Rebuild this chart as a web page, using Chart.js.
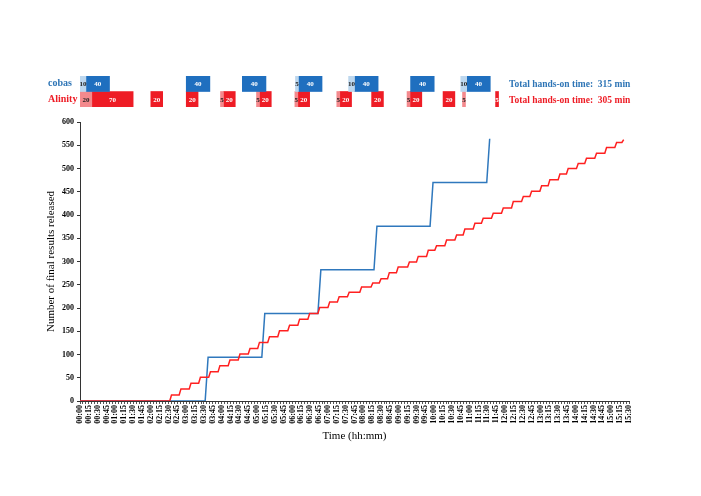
<!DOCTYPE html>
<html>
<head>
<meta charset="utf-8">
<script src="https://cdn.jsdelivr.net/npm/chart.js@4.4.0/dist/chart.umd.min.js"></script>
<style>
  body { margin: 0; background: #fff; }
  #wrap { position: relative; width: 701px; height: 496px; }
  canvas { position: absolute; left: 0; top: 0; }
</style>
</head>
<body>
<div id="wrap">
  <canvas id="resultsChart" width="701" height="496"></canvas>
  <canvas id="handsOnChart" width="701" height="116"></canvas>
</div>
<script>
// minutes since 00:00
const cobasStepTimes = [212, 308, 403, 498, 593, 689];
const cobasStepValues = [94, 188, 282, 376, 470, 564];

const alinityStepTimes = [152, 168, 185, 201, 218, 234, 251, 268, 285, 301,
    318, 335, 352, 369, 386, 403, 420, 436, 453, 474,
    493, 507, 521, 536, 555, 570, 587, 601, 618, 635,
    649, 666, 680, 697, 714, 731, 748, 762, 779, 793,
    810, 824, 841, 855, 872, 889, 906, 918];
const alinityStepValues = [13, 26, 38, 51, 63, 76, 88, 101, 113, 126,
    138, 151, 163, 176, 188, 201, 213, 224, 234, 245,
    254, 263, 276, 288, 299, 311, 324, 334, 346, 357,
    370, 382, 393, 404, 415, 429, 440, 451, 463, 476,
    488, 500, 511, 522, 533, 545, 556, 562];

// hands-on blocks [start, end] in minutes
const analyzers = ["cobas", "Alinity"];
const handsOnTotals = [315, 305];
const cobasLight = [[0, 10], [365, 370], [455, 465], [645, 655]];
const cobasDark = [[10, 50], [180, 220], [275, 315], [370, 410], [465, 505], [560, 600], [655, 695]];
const alinityLight = [[0, 20], [238, 243], [299, 304], [364, 369], [435, 440], [554, 559], [648, 653]];
const alinityDark = [[20, 90], [120, 140], [180, 200], [243, 263], [304, 324], [369, 389], [440, 460],
    [494, 514], [559, 579], [615, 635], [704, 709]];

const serif = "'Liberation Serif', 'Times New Roman', serif";
const rowColors = ['#2e75b6', '#ee1c25'];

function stepPoints(times, values, rise) {
    const pts = [{ x: 0, y: 0 }];
    let prev = 0;
    times.forEach((t, i) => {
        pts.push({ x: t, y: prev });
        pts.push({ x: t + rise, y: values[i] });
        prev = values[i];
    });
    return pts;
}

function hhmm(v) {
    const h = Math.floor(v / 60), m = v % 60;
    return String(h).padStart(2, '0') + ':' + String(m).padStart(2, '0');
}

// results released chart
new Chart(document.getElementById('resultsChart'), {
    type: 'line',
    data: {
        datasets: [{
            label: 'Alinity',
            data: stepPoints(alinityStepTimes, alinityStepValues, 3),
            borderColor: '#ff2020',
            borderWidth: 1.5,
            pointRadius: 0
        }, {
            label: 'cobas',
            data: stepPoints(cobasStepTimes, cobasStepValues, 5),
            borderColor: '#2f78bd',
            borderWidth: 1.5,
            pointRadius: 0
        }]
    },
    options: {
        responsive: false,
        animation: false,
        layout: { padding: { left: 43, top: 122, right: 72, bottom: 51 } },
        plugins: { legend: { display: false }, tooltip: { enabled: false } },
        scales: {
            x: {
                type: 'linear',
                min: 0,
                max: 930,
                grid: { drawOnChartArea: false, tickLength: 3, color: '#555' },
                border: { color: '#333' },
                ticks: {
                    stepSize: 5,
                    autoSkip: false,
                    minRotation: 90,
                    maxRotation: 90,
                    padding: 1,
                    color: '#000',
                    font: { family: serif, size: 8, weight: 'bold' },
                    callback: v => v % 15 === 0 ? hhmm(v) : ''
                },
                title: {
                    display: true,
                    text: 'Time (hh:mm)',
                    color: '#000',
                    font: { family: serif, size: 11 },
                    padding: { top: 2, bottom: 2 }
                },
                afterFit: s => { s.height = 44; }
            },
            y: {
                min: 0,
                max: 600,
                grid: { drawOnChartArea: false, tickLength: 3, color: '#333' },
                border: { color: '#333' },
                ticks: {
                    stepSize: 25,
                    padding: 3,
                    color: '#000',
                    font: { family: serif, size: 8, weight: 'bold' }
                },
                title: {
                    display: true,
                    text: 'Number of final results released',
                    color: '#000',
                    font: { family: serif, size: 11 },
                    padding: { top: 2, bottom: 2 }
                },
                afterFit: s => { s.width = 37; }
            }
        }
    }
});

// labels inside the hands-on blocks
const barLabels = {
    id: 'barLabels',
    afterDatasetsDraw(chart) {
        const ctx = chart.ctx;
        ctx.save();
        ctx.font = 'bold 7px ' + serif;
        ctx.textAlign = 'center';
        ctx.textBaseline = 'middle';
        chart.data.datasets.forEach((ds, i) => {
            ctx.fillStyle = ds.labelColor;
            chart.getDatasetMeta(i).data.forEach((bar, j) => {
                const r = ds.data[j].x;
                ctx.fillText(String(r[1] - r[0]), (bar.x + bar.base) / 2, bar.y + 0.5);
            });
        });
        ctx.restore();
    }
};

const totalsText = {
    id: 'totalsText',
    afterDraw(chart) {
        const ctx = chart.ctx;
        const y = chart.scales.y;
        ctx.save();
        ctx.font = 'bold 9.5px ' + serif;
        ctx.textAlign = 'left';
        ctx.textBaseline = 'middle';
        analyzers.forEach((a, i) => {
            ctx.fillStyle = rowColors[i];
            ctx.fillText('Total hands-on time:  ' + handsOnTotals[i] + ' min', 509, y.getPixelForValue(i) + 1);
        });
        ctx.restore();
    }
};

function blocks(list, row) {
    return list.map(r => ({ x: r, y: row }));
}

new Chart(document.getElementById('handsOnChart'), {
    type: 'bar',
    data: {
        labels: analyzers,
        datasets: [
            { data: blocks(cobasLight, 'cobas'), backgroundColor: '#bdd7ee', labelColor: '#222' },
            { data: blocks(cobasDark, 'cobas'), backgroundColor: '#1f6fbf', labelColor: '#fff' },
            { data: blocks(alinityLight, 'Alinity'), backgroundColor: '#f4898d', labelColor: '#222' },
            { data: blocks(alinityDark, 'Alinity'), backgroundColor: '#ee1c25', labelColor: '#fff' }
        ]
    },
    options: {
        indexAxis: 'y',
        responsive: false,
        animation: false,
        layout: { padding: { left: 48, right: 72, top: 76, bottom: 7 } },
        plugins: { legend: { display: false }, tooltip: { enabled: false } },
        datasets: { bar: { barPercentage: 1, categoryPercentage: 1, grouped: false } },
        scales: {
            x: { type: 'linear', display: false, min: 0, max: 930 },
            y: {
                grid: { display: false },
                border: { display: false },
                ticks: {
                    crossAlign: 'far',
                    color: c => rowColors[c.index],
                    font: { family: serif, size: 10, weight: 'bold' }
                },
                afterFit: s => { s.width = 32; }
            }
        }
    },
    plugins: [barLabels, totalsText]
});
</script>
</body>
</html>
